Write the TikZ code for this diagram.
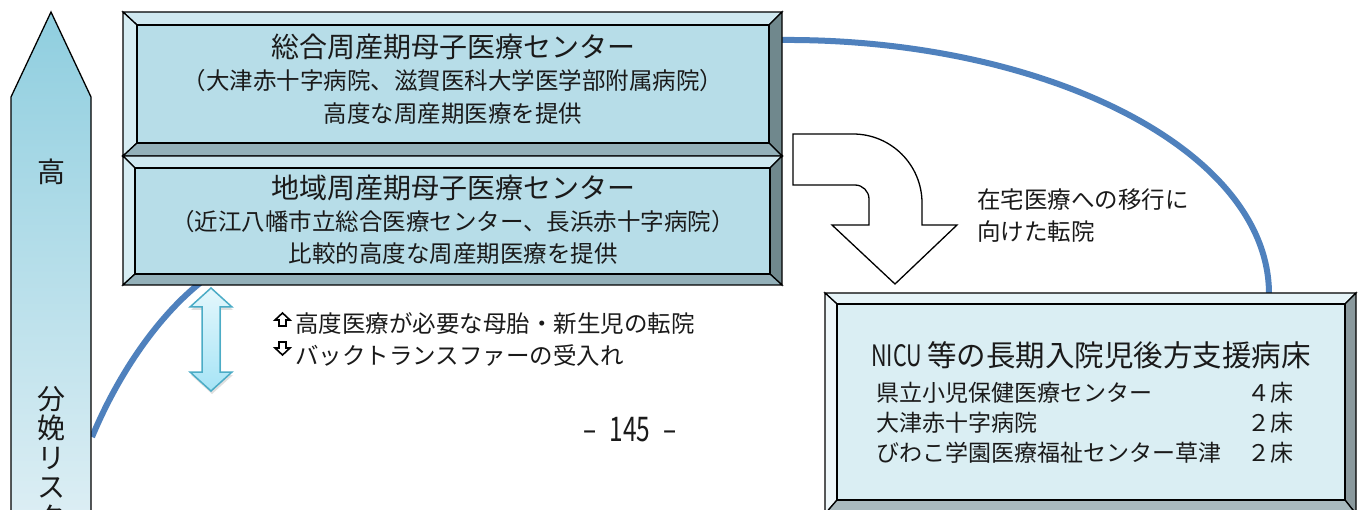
\documentclass[tikz,border=0pt]{standalone}
\usepackage{fontspec}
\setmainfont{Noto Sans CJK JP}
\usetikzlibrary{shadows}
\definecolor{curveblue}{HTML}{4F81BD}
\definecolor{faceA}{HTML}{B7DDE8}
\definecolor{topA}{HTML}{CFE8F0}
\definecolor{leftA}{HTML}{D6EDF3}
\definecolor{rightA}{HTML}{70888D}
\definecolor{botA}{HTML}{93B0B9}
\definecolor{faceB}{HTML}{DAEEF3}
\definecolor{topB}{HTML}{E6F4F8}
\definecolor{leftB}{HTML}{EEF7FA}
\definecolor{rightB}{HTML}{8A999D}
\definecolor{botB}{HTML}{A8B9BE}
\definecolor{arrTop}{HTML}{8FCEDF}
\definecolor{arrBot}{HTML}{DCEEF4}
\definecolor{dblTop}{HTML}{E4F7FC}
\definecolor{dblBot}{HTML}{A6E4F6}
\definecolor{dblLine}{HTML}{4BACC6}
\definecolor{ink}{HTML}{1A1A1A}
\newcommand\fsz[1]{\fontsize{#1}{#1}\selectfont}
% bevel box: outer x1 y1 x2 y2, inner x1 y1 x2 y2, colour suffix
\newcommand\bevbox[9]{%
  \filldraw[bevline,fill=top#9] (#1,#2)--(#3,#2)--(#7,#6)--(#5,#6)--cycle;
  \filldraw[bevline,fill=left#9] (#1,#2)--(#5,#6)--(#5,#8)--(#1,#4)--cycle;
  \filldraw[bevline,fill=right#9] (#3,#2)--(#3,#4)--(#7,#8)--(#7,#6)--cycle;
  \filldraw[bevline,fill=bot#9] (#1,#4)--(#5,#8)--(#7,#8)--(#3,#4)--cycle;
  \filldraw[bevline,fill=face#9] (#5,#6) rectangle (#7,#8);
}
\begin{document}
\begin{tikzpicture}[x=1pt,y=-1pt,
  bevline/.style={draw=black,line width=1.3pt,line join=miter},
  bigtxt/.style={inner sep=0pt,text=ink,font=\fsz{28}},
  midtxt/.style={inner sep=0pt,text=ink,font=\fsz{23.5}},
  rowtxt/.style={inner sep=0pt,text=ink,font=\fsz{23}},
  hollowarrow/.style={draw=black,fill=white,line width=1.6pt,line join=miter},
  riskcurve/.style={draw=curveblue,line width=6pt}]
\useasboundingbox (0,0) rectangle (1362,510);
\fill[white] (0,0) rectangle (1362,510);

% named ends of the blue curves
\coordinate (cLa) at (92,437);
\coordinate (cLb) at (200,283);
\coordinate (cRa) at (780,40);
\coordinate (cRb) at (1269,294);
\draw[riskcurve] (cLa) .. controls (120,370) and (160,315) .. (cLb);
\draw[riskcurve] (cRa) .. controls (1045,38) and (1269,150) .. (cRb);

% left risk arrow
\draw[line width=1.3pt,top color=arrTop,bottom color=arrBot]
  (51,12) -- (91,97) -- (91,516) -- (11,516) -- (11,97) -- cycle;
\node[bigtxt] (high) at (51,172) {高};
\node[inner sep=0pt,text=ink,font=\fontsize{28}{29.5}\selectfont,align=center,anchor=north]
  (risk) at (51,386) {分\\娩\\リ\\ス\\ク};

% bevel boxes
\bevbox{123}{12}{782}{156}{137}{25}{769}{143}{A}
\bevbox{123}{156}{782}{285}{135}{168}{770}{274}{A}
\bevbox{825}{293}{1356}{514}{837}{304}{1345}{500}{B}

\node[bigtxt] (t1a) at (453,47) {総合周産期母子医療センター};
\node[midtxt] (t1b) at (453,81) {（大津赤十字病院、滋賀医科大学医学部附属病院）};
\node[midtxt] (t1c) at (453,114) {高度な周産期医療を提供};
\node[bigtxt] (t2a) at (453,188) {地域周産期母子医療センター};
\node[midtxt] (t2b) at (453,222) {（近江八幡市立総合医療センター、長浜赤十字病院）};
\node[midtxt] (t2c) at (453,254) {比較的高度な周産期医療を提供};

% double arrow
\filldraw[draw=dblLine,line width=1.5pt,line join=miter,top color=dblTop,bottom color=dblBot,
  drop shadow={opacity=0.25,shadow xshift=1pt,shadow yshift=-3pt}]
  (211,288) -- (232,307) -- (220,307) -- (220,372) -- (232,372) -- (211,391)
  -- (190,372) -- (202,372) -- (202,307) -- (190,307) -- cycle;
\draw[hollowarrow] (282.5,313) -- (290,320) -- (286,320) -- (286,326) -- (279,326)
  -- (279,320) -- (275,320) -- cycle;
\draw[hollowarrow] (282.5,355) -- (290,348) -- (286,348) -- (286,342) -- (279,342)
  -- (279,348) -- (275,348) -- cycle;
\node[midtxt,anchor=west] (up) at (295,324) {高度医療が必要な母胎・新生児の転院};
\node[midtxt,anchor=west] (down) at (295,356) {バックトランスファーの受入れ};

% bent arrow
\draw[line width=1.3pt,fill=white,line join=miter]
  (793,134) -- (853,134) arc[start angle=-90,end angle=0,radius=69]
  -- (922,225) -- (957,225) -- (895,284) -- (832,225) -- (869,225)
  -- (869,199) arc[start angle=0,end angle=-90,radius=14] -- (793,185) -- cycle;
\node[midtxt,anchor=west] (home1) at (977,200) {在宅医療への移行に};
\node[midtxt,anchor=west] (home2) at (977,232) {向けた転院};

% NICU box texts
\node[inner sep=0pt,text=ink,font=\fsz{29.5},anchor=west] (nicu) at (871,355)
  {\scalebox{0.73}[1]{NICU}\hspace{5pt}等の長期入院児後方支援病床};
\node[rowtxt,anchor=west] (r1) at (876,393) {県立小児保健医療センター};
\node[rowtxt,anchor=west] (r2) at (876,423) {大津赤十字病院};
\node[rowtxt,anchor=west] (r3) at (876,453) {びわこ学園医療福祉センター草津};
\node[rowtxt,anchor=west] (n1) at (1247,393) {４床};
\node[rowtxt,anchor=west] (n2) at (1247,423) {２床};
\node[rowtxt,anchor=west] (n3) at (1247,453) {２床};

\node[inner sep=0pt,text=ink,font=\fsz{34}] (page) at (630,430) {\scalebox{0.72}[1]{–\hspace{18pt}145\hspace{18pt}–}};
\end{tikzpicture}
\end{document}
